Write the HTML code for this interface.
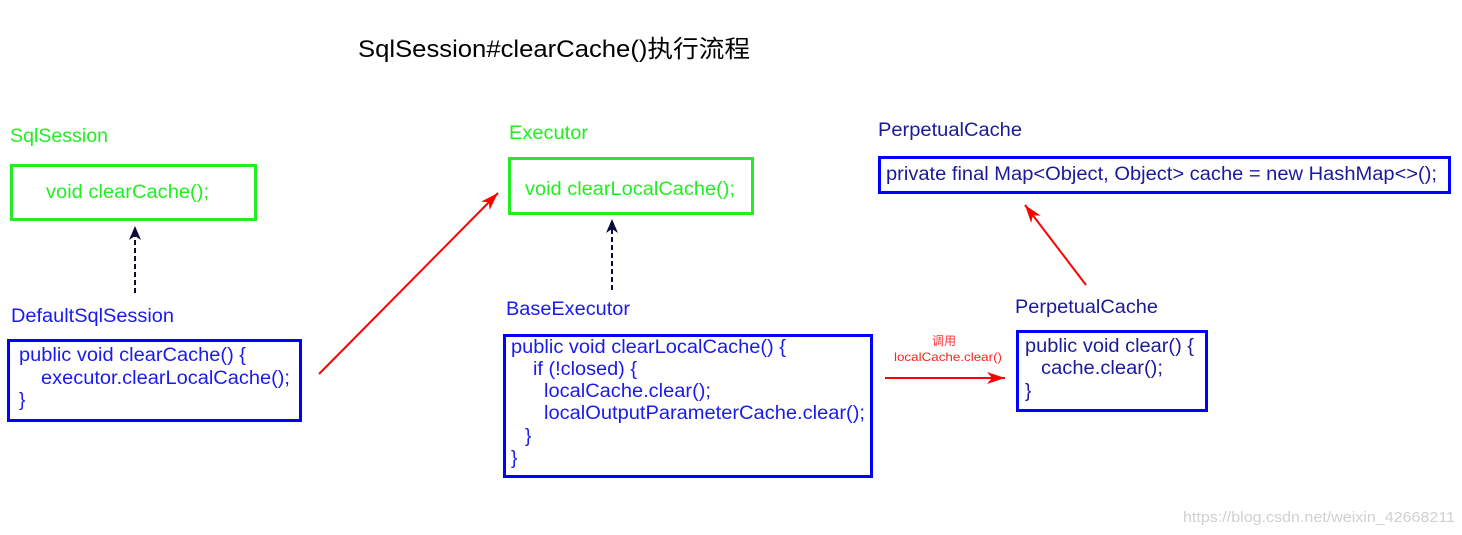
<!DOCTYPE html>
<html><head><meta charset="utf-8"><style>
html,body{margin:0;padding:0;background:#fff;width:1462px;height:535px;overflow:hidden}
svg text{font-family:"Liberation Sans","Noto Sans CJK SC",sans-serif}
</style></head><body>
<svg width="1462" height="535" viewBox="0 0 1462 535" xmlns="http://www.w3.org/2000/svg">
<defs>
<marker id="nh" markerWidth="14" markerHeight="16" refX="12" refY="6" orient="auto" markerUnits="userSpaceOnUse"><path d="M0,0 L14,6 L0,12 L4,6 z" fill="#0a0a3a"/></marker>
<marker id="rh2" markerWidth="20" markerHeight="14" refX="18" refY="6" orient="auto" markerUnits="userSpaceOnUse"><path d="M0,0 L18,6 L0,12 L5,6 z" fill="#ff0000"/></marker>
</defs>
<text x="358" y="57" font-size="24" fill="#000" textLength="392" lengthAdjust="spacingAndGlyphs">SqlSession#clearCache()执行流程</text>

<text x="10" y="142" font-size="19" fill="#22ee22" textLength="98" lengthAdjust="spacingAndGlyphs">SqlSession</text>
<rect x="11.5" y="165.5" width="244" height="54" fill="none" stroke="#22ee22" stroke-width="3"/>
<text x="46" y="198" font-size="19" fill="#22ee22" textLength="163" lengthAdjust="spacingAndGlyphs">void clearCache();</text>
<line x1="135" y1="293" x2="135" y2="228" stroke="#0a0a3a" stroke-width="2" stroke-dasharray="5,3" marker-end="url(#nh)"/>

<text x="11" y="322" font-size="19" fill="#1a1aee" textLength="163" lengthAdjust="spacingAndGlyphs">DefaultSqlSession</text>
<rect x="8.5" y="340.5" width="292" height="80" fill="none" stroke="#0000ff" stroke-width="3"/>
<text font-size="19" fill="#1a1aee" x="19" y="361" textLength="227" lengthAdjust="spacingAndGlyphs">public void clearCache() {</text>
<text font-size="19" fill="#1a1aee" x="41" y="384" textLength="249" lengthAdjust="spacingAndGlyphs">executor.clearLocalCache();</text>
<text font-size="19" fill="#1a1aee" x="19" y="406">}</text>

<line x1="319" y1="374" x2="498" y2="193" stroke="#ff0000" stroke-width="2" marker-end="url(#rh2)"/>

<text x="509" y="139" font-size="19" fill="#22ee22" textLength="79" lengthAdjust="spacingAndGlyphs">Executor</text>
<rect x="509.5" y="158.5" width="243" height="55" fill="none" stroke="#22ee22" stroke-width="3"/>
<text x="525" y="195" font-size="19" fill="#22ee22" textLength="210" lengthAdjust="spacingAndGlyphs">void clearLocalCache();</text>
<line x1="612" y1="290" x2="612" y2="221" stroke="#0a0a3a" stroke-width="2" stroke-dasharray="5,3" marker-end="url(#nh)"/>

<text x="506" y="315" font-size="19" fill="#1a1aee" textLength="124" lengthAdjust="spacingAndGlyphs">BaseExecutor</text>
<rect x="504.5" y="335.5" width="367" height="141" fill="none" stroke="#0000ff" stroke-width="3"/>
<g font-size="19" fill="#1a1aee">
<text x="511" y="353" textLength="275" lengthAdjust="spacingAndGlyphs">public void clearLocalCache() {</text>
<text x="533" y="375" textLength="104" lengthAdjust="spacingAndGlyphs">if (!closed) {</text>
<text x="544" y="397" textLength="167" lengthAdjust="spacingAndGlyphs">localCache.clear();</text>
<text x="544" y="419" textLength="321" lengthAdjust="spacingAndGlyphs">localOutputParameterCache.clear();</text>
<text x="525" y="442">}</text>
<text x="511" y="464">}</text>
</g>

<text x="944" y="345" font-size="12" fill="#ff3333" text-anchor="middle">调用</text>
<text x="894" y="361" font-size="12" fill="#ff2222" textLength="108" lengthAdjust="spacingAndGlyphs">localCache.clear()</text>
<line x1="885" y1="378" x2="1005" y2="378" stroke="#ff0000" stroke-width="2" marker-end="url(#rh2)"/>

<text x="878" y="136" font-size="19" fill="#1a1a9a" textLength="144" lengthAdjust="spacingAndGlyphs">PerpetualCache</text>
<rect x="879.5" y="157.5" width="570" height="35" fill="none" stroke="#0000ff" stroke-width="3"/>
<text x="886" y="180" font-size="19" fill="#1a1a9a" textLength="551" lengthAdjust="spacingAndGlyphs">private final Map&lt;Object, Object&gt; cache = new HashMap&lt;&gt;();</text>
<line x1="1086" y1="285" x2="1025" y2="205" stroke="#ff0000" stroke-width="2" marker-end="url(#rh2)"/>

<text x="1015" y="313" font-size="19" fill="#1a1a9a" textLength="143" lengthAdjust="spacingAndGlyphs">PerpetualCache</text>
<rect x="1017.5" y="331.5" width="189" height="79" fill="none" stroke="#0000ff" stroke-width="3"/>
<text x="1025" y="352" font-size="19" fill="#1a1a9a" textLength="169" lengthAdjust="spacingAndGlyphs">public void clear() {</text>
<text x="1041" y="374" font-size="19" fill="#1a1a9a" textLength="122" lengthAdjust="spacingAndGlyphs">cache.clear();</text>
<text x="1025" y="397" font-size="19" fill="#1a1a9a">}</text>

<text x="1183" y="522" font-size="15" fill="#d0d0d0" textLength="272" lengthAdjust="spacingAndGlyphs">https://blog.csdn.net/weixin_42668211</text>
</svg>
</body></html>
